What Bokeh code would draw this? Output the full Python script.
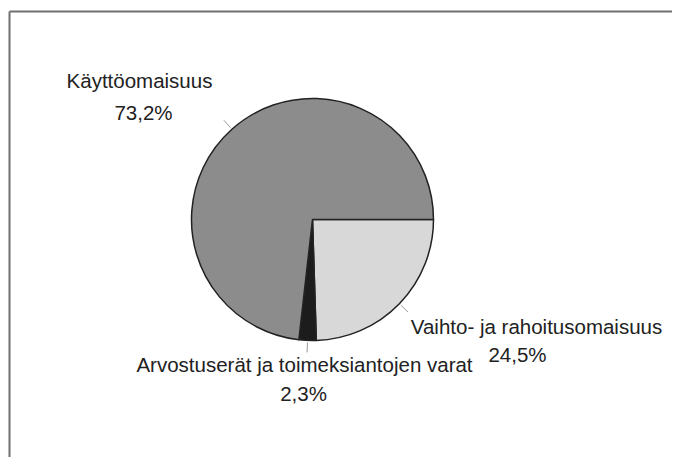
import math
from bokeh.plotting import figure
from bokeh.models import Range1d, ColumnDataSource
from bokeh.core.properties import value
from bokeh.embed import file_html
from bokeh.resources import INLINE

# ---- data ----
categories = ["Vaihto- ja rahoitusomaisuus", "Arvostuserät ja toimeksiantojen varat", "Käyttöomaisuus"]
shares = [24.5, 2.3, 73.2]
pct_labels = ["24,5%", "2,3%", "73,2%"]

# ---- style / layout ----
colors = ["#d8d8d8", "#1c1c1c", "#8c8c8c"]
W, H = 672, 457
IMG_H = 473
cx, cy_img, R = 312, 219, 121
cy = IMG_H - cy_img
FONT = value("Liberation Sans")
FS = "20.5px"
# label anchors (image px): name (x, y-mid), pct (x, y-mid)
name_pos = [(536, 326), (304, 364), (139, 80)]
pct_pos = [(517, 354), (303, 393), (143, 112)]

p = figure(width=W, height=H, output_backend="svg", toolbar_location=None,
           x_range=Range1d(0, W), y_range=Range1d(IMG_H - H, IMG_H),
           min_border=0, outline_line_color=None)
p.axis.visible = False
p.grid.visible = False
p.background_fill_color = "white"
p.border_fill_color = "white"

# frame (top and left only visible)
p.segment(x0=[9, 9], y0=[IMG_H - 11, IMG_H - 11], x1=[W, 9], y1=[IMG_H - 11, 0],
          line_color="#707070", line_width=2)

# wedges going clockwise from 0
total = sum(shares)
bounds = [0.0]
for s in shares:
    bounds.append(bounds[-1] - s / total * 2 * math.pi)
starts = [bounds[i + 1] for i in range(len(shares))]
ends = [bounds[i] for i in range(len(shares))]
mids = [(a + b) / 2 for a, b in zip(starts, ends)]

src = ColumnDataSource(dict(start=starts, end=ends, color=colors))
p.wedge(x=cx, y=cy, radius=R, start_angle="start", end_angle="end", direction="anticlock",
        fill_color="color", line_color="#222222", line_width=1.5, source=src)

# leader lines
lx0 = [cx + (R + 2) * math.cos(m) for m in mids]
ly0 = [cy + (R + 2) * math.sin(m) for m in mids]
lx1 = [cx + (R + 12) * math.cos(m) for m in mids]
ly1 = [cy + (R + 12) * math.sin(m) for m in mids]
p.segment(x0=lx0, y0=ly0, x1=lx1, y1=ly1, line_color="#9a9a9a", line_width=1)

# labels
p.text(x=[q[0] for q in name_pos], y=[IMG_H - q[1] for q in name_pos], text=categories,
       text_font=FONT, text_font_size=FS, text_color="#222222",
       text_align="center", text_baseline="middle")
p.text(x=[q[0] for q in pct_pos], y=[IMG_H - q[1] for q in pct_pos], text=pct_labels,
       text_font=FONT, text_font_size=FS, text_color="#222222",
       text_align="center", text_baseline="middle")

open("out.html", "w").write(file_html(p, INLINE))
